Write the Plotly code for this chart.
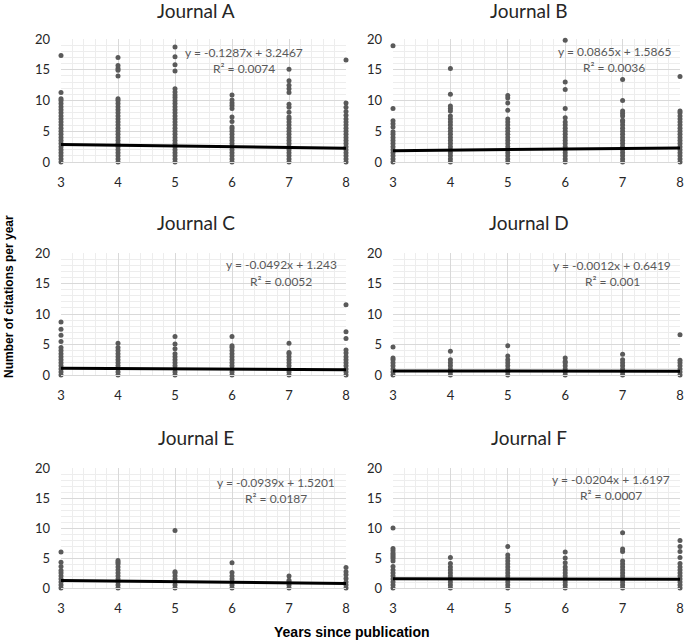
import plotly.graph_objects as go

years = [3, 4, 5, 6, 7, 8]
journals = ["Journal A", "Journal B", "Journal C", "Journal D", "Journal E", "Journal F"]

# citations per year, one list per publication year (3..8)
journal_a = [
    [0, 0.5, 1, 1.5, 2, 2.5, 3, 3.5, 4, 4.5, 5, 5.5, 6, 6.5, 7, 7.5, 8, 8.5, 9, 9.5, 10, 10.3, 11.3, 17.3],
    [0, 0.5, 1, 1.5, 2, 2.5, 3, 3.5, 4, 4.5, 5, 5.5, 6, 6.5, 7, 7.5, 8, 8.5, 9, 9.5, 10, 10.3, 14.0, 14.9, 15.2, 15.7, 17.0],
    [0, 0.5, 1, 1.5, 2, 2.5, 3, 3.5, 4, 4.5, 5, 5.5, 6, 6.5, 7, 7.5, 8, 8.5, 9, 9.5, 10, 10.5, 10.9, 11.4, 11.9, 14.8, 15.8, 17.1, 18.7],
    [0, 0.5, 1, 1.5, 2, 2.5, 3, 3.5, 4, 4.5, 5, 5.4, 5.7, 6.6, 7.3, 8.7, 9.2, 9.6, 10.1, 10.9],
    [0, 0.5, 1, 1.5, 2, 2.5, 3, 3.5, 4, 4.5, 5, 5.5, 6, 6.5, 7, 7.3, 8.1, 8.9, 9.4, 11.3, 11.9, 12.5, 13.2, 15.1],
    [0, 0.5, 1, 1.5, 2, 2.5, 3, 3.5, 4, 4.5, 5, 5.5, 6, 6.5, 7, 7.6, 8.2, 8.9, 9.6, 16.6],
]
journal_b = [
    [0, 0.5, 1, 1.5, 2, 2.5, 3, 3.5, 4, 4.5, 4.9, 5.7, 6.2, 6.7, 8.7, 18.9],
    [0, 0.5, 1, 1.5, 2, 2.5, 3, 3.5, 4, 4.5, 5, 5.5, 6, 6.5, 7, 7.5, 8.3, 8.7, 9.1, 11.0, 15.2],
    [0, 0.5, 1, 1.5, 2, 2.5, 3, 3.5, 4, 4.5, 5, 5.5, 6, 6.5, 7.0, 8.4, 9.6, 10.4, 10.8],
    [0, 0.5, 1, 1.5, 2, 2.5, 3, 3.5, 4, 4.5, 5, 5.5, 6, 6.5, 7.2, 8.7, 11.8, 13.0, 19.8],
    [0, 0.5, 1, 1.5, 2, 2.5, 3, 3.5, 4, 4.5, 5, 5.5, 6, 6.5, 6.8, 7.5, 7.9, 8.3, 10.0, 13.4],
    [0, 0.5, 1, 1.5, 2, 2.5, 3, 3.5, 4, 4.5, 5, 5.5, 6, 6.5, 7, 7.5, 8, 8.3, 13.9],
]
journal_c = [
    [0, 0.5, 1, 1.5, 2, 2.5, 3, 3.5, 4, 4.5, 5.5, 6.5, 7.5, 8.7],
    [0, 0.5, 1, 1.5, 2, 2.5, 3, 3.5, 4, 4.5, 5.2],
    [0, 0.5, 1, 1.5, 2, 2.5, 3, 3.5, 4.3, 5.1, 6.3],
    [0, 0.5, 1, 1.5, 2, 2.5, 3, 3.5, 4, 4.5, 4.8, 6.3],
    [0, 0.5, 1, 1.5, 2, 2.5, 3, 3.5, 3.7, 5.2],
    [0, 0.5, 1, 1.5, 2, 2.5, 3, 3.6, 4.1, 6.0, 7.1, 11.5],
]
journal_d = [
    [0, 0.5, 1, 1.5, 2, 2.5, 2.8, 4.6],
    [0, 0.5, 1, 1.5, 2, 2.5, 3.9],
    [0, 0.5, 1, 1.5, 2, 2.5, 3.1, 4.8],
    [0, 0.5, 1, 1.5, 2, 2.2, 2.8],
    [0, 0.5, 1, 1.5, 2.0, 2.5, 3.4],
    [0, 0.5, 1, 1.5, 2, 2.4, 6.6],
]
journal_e = [
    [0, 0.5, 1, 1.5, 2, 2.5, 2.9, 3.6, 4.3, 6.0],
    [0, 0.5, 1, 1.5, 2, 2.5, 3, 3.5, 4, 4.3, 4.6],
    [0, 0.5, 1, 1.5, 2, 2.5, 2.7, 9.6],
    [0, 0.5, 1, 1.5, 2, 2.6, 4.2],
    [0, 0.5, 1, 1.3, 2.0],
    [0, 0.5, 1, 1.6, 2.2, 2.7, 3.4],
]
journal_f = [
    [0, 0.5, 1, 1.5, 2, 2.5, 3, 3.6, 4.5, 4.9, 5.2, 5.5, 5.8, 6.2, 6.6, 10.0],
    [0, 0.5, 1, 1.5, 2, 2.5, 3, 3.5, 4.1, 5.1],
    [0, 0.5, 1, 1.5, 2, 2.5, 3, 3.5, 4, 4.5, 5, 5.5, 6.9],
    [0, 0.5, 1, 1.5, 2, 2.5, 3, 3.5, 4.2, 5.0, 6.0],
    [0, 0.5, 1, 1.5, 2, 2.5, 3, 3.5, 4, 4.5, 6.1, 6.5, 9.2],
    [0, 0.5, 1, 1.5, 2, 2.5, 3, 3.5, 4.1, 5.1, 6.1, 6.9, 7.9],
]
all_journals = [journal_a, journal_b, journal_c, journal_d, journal_e, journal_f]

slopes = [-0.1287, 0.0865, -0.0492, -0.0012, -0.0939, -0.0204]
intercepts = [3.2467, 1.5865, 1.243, 0.6419, 1.5201, 1.6197]
r_squared = [0.0074, 0.0036, 0.0052, 0.001, 0.0187, 0.0007]

y_ticks = [0, 5, 10, 15, 20]

W, H = 685, 640
# plot-area pixel boxes (left, right, top, bottom)
boxes = [
    (61, 346, 39, 162), (393, 680, 39, 162),
    (61, 346, 253, 375), (393, 680, 253, 375),
    (61, 346, 468, 588), (393, 680, 468, 588),
]
title_pos = [(196, 10), (529, 10), (196, 222), (529, 222), (196, 437), (529, 437)]
eq_pos = [(244, 52, 69), (614, 51, 68), (281, 264, 281), (612, 265, 281), (276, 482, 498), (611, 479, 495)]

FONT = "Lato"
fig = go.Figure()
annotations = []
for i, data in enumerate(all_journals):
    xs, ys = [], []
    for yr, vals in zip(years, data):
        xs += [yr] * len(vals)
        ys += vals
    ax = "" if i == 0 else str(i + 1)
    fig.add_trace(go.Scatter(
        x=xs, y=ys, mode="markers", xaxis="x" + ax, yaxis="y" + ax,
        marker=dict(color="#5a5a5a", size=5), cliponaxis=False, showlegend=False,
        hoverinfo="skip",
    ))
    lx = [years[0], years[-1]]
    ly = [slopes[i] * v + intercepts[i] for v in lx]
    fig.add_trace(go.Scatter(
        x=lx, y=ly, mode="lines", xaxis="x" + ax, yaxis="y" + ax,
        line=dict(color="black", width=3), showlegend=False, cliponaxis=False,
        hoverinfo="skip",
    ))
    l, r, t, b = boxes[i]
    fig.update_layout({
        "xaxis" + ax: dict(
            domain=[l / W, r / W], anchor="y" + ax, range=[3, 8], dtick=1, tick0=3,
            showgrid=True, gridcolor="#d9d9d9", gridwidth=1,
            minor=dict(dtick=0.2, showgrid=True, gridcolor="#ededed", gridwidth=1),
            showline=True, linecolor="#d9d9d9", linewidth=1, zeroline=False,
            ticks="", ticklabelstandoff=8, automargin=False,
            tickfont=dict(family=FONT, size=13, color="#262626"),
        ),
        "yaxis" + ax: dict(
            domain=[1 - b / H, 1 - t / H], anchor="x" + ax, range=[0, 20],
            tickvals=y_ticks, showgrid=True, gridcolor="#d9d9d9", gridwidth=1,
            minor=dict(dtick=1, showgrid=True, gridcolor="#ededed", gridwidth=1),
            showline=False, zeroline=False, ticks="", ticklabelstandoff=10, automargin=False,
            tickfont=dict(family=FONT, size=13, color="#262626"),
        ),
    })
    tx, ty = title_pos[i]
    annotations.append(dict(text=journals[i], x=tx / W, y=1 - ty / H, xref="paper", yref="paper",
                            showarrow=False, xanchor="center", yanchor="middle",
                            font=dict(family=FONT, size=19, color="#262626")))
    ex, ey1, ey2 = eq_pos[i]
    annotations.append(dict(text=f"y = {slopes[i]}x + {intercepts[i]}", x=ex / W, y=1 - ey1 / H,
                            xref="paper", yref="paper", showarrow=False, xanchor="center",
                            yanchor="middle", font=dict(family=FONT, size=12, color="#595959")))
    annotations.append(dict(text=f"R² = {r_squared[i]}", x=ex / W, y=1 - ey2 / H,
                            xref="paper", yref="paper", showarrow=False, xanchor="center",
                            yanchor="middle", font=dict(family=FONT, size=12, color="#595959")))

annotations.append(dict(text="<b>Years since publication</b>", x=352 / W, y=1 - 632 / H,
                        xref="paper", yref="paper", showarrow=False, xanchor="center", yanchor="middle",
                        font=dict(family="Liberation Sans", size=14, color="black")))
annotations.append(dict(text="<b>Number of citations per year</b>", x=9 / W, y=1 - 297 / H,
                        xref="paper", yref="paper", showarrow=False, xanchor="center", yanchor="middle",
                        textangle=-90, font=dict(family="Liberation Sans", size=12, color="black")))

fig.update_layout(
    width=W, height=H, margin=dict(l=0, r=0, t=0, b=0),
    paper_bgcolor="white", plot_bgcolor="white", annotations=annotations,
)
fig.write_html("out.html", config={"displayModeBar": False},
               post_script="document.body.style.margin='0';document.body.style.overflow='hidden';")
